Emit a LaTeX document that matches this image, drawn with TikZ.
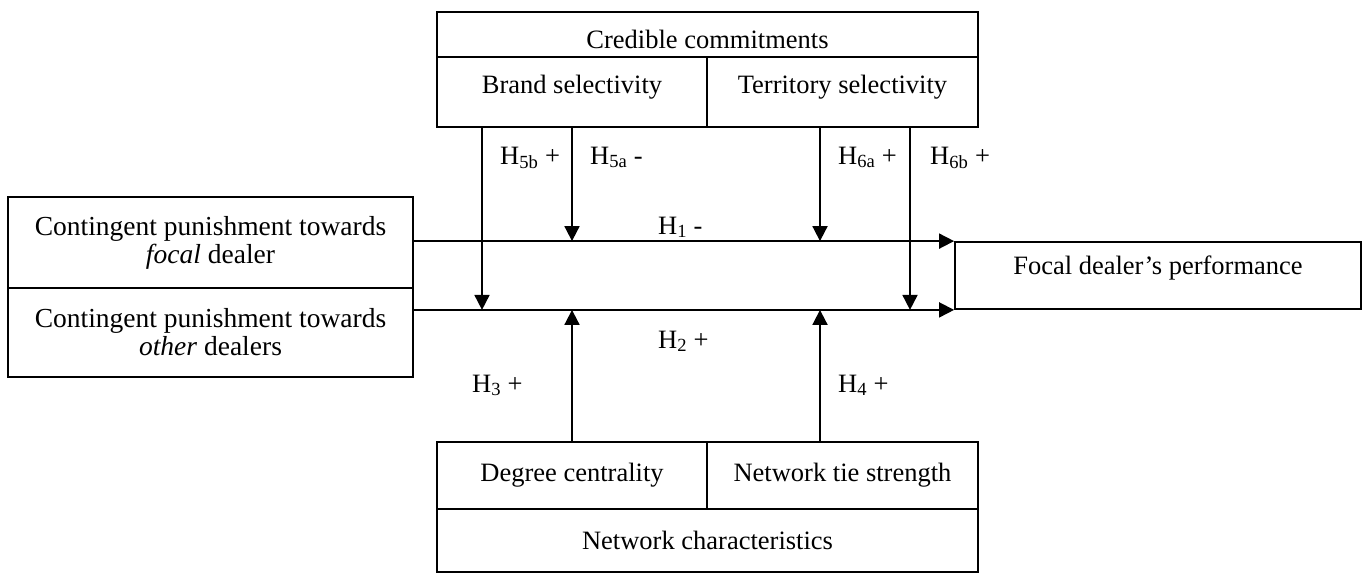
\documentclass[tikz,border=0pt]{standalone}
\usepackage{fontspec}
\setmainfont{Liberation Serif}
\usetikzlibrary{arrows.meta}

\tikzset{
  box/.style={draw, line width=1.8pt, inner sep=0pt, align=center},
  sbox/.style={box, text height=18pt, text depth=6pt},
  arr/.style={line width=1.8pt, -{Triangle[length=15pt,width=15pt]}},
  hyp/.style={inner sep=0pt, anchor=base west}
}

\begin{document}
\begin{tikzpicture}[x=1pt, y=-1pt, font=\fontsize{26.5}{28}\selectfont]
  \useasboundingbox (0,0) rectangle (1362,574);
  % moderators on top
  \node[sbox, minimum width=541pt, minimum height=45pt, text height=34pt] (cred) at (707.5,34.5) {Credible commitments};
  \node[sbox, minimum width=270pt, minimum height=70pt, text depth=16pt] (brand) at (572,92) {Brand selectivity};
  \node[sbox, minimum width=271pt, minimum height=70pt, text depth=16pt] (terr) at (842.5,92) {Territory selectivity};
  % moderators below
  \node[sbox, minimum width=270pt, minimum height=67pt] (degree) at (572,475.5) {Degree centrality};
  \node[sbox, minimum width=271pt, minimum height=67pt] (tie) at (842.5,475.5) {Network tie strength};
  \node[sbox, minimum width=541pt, minimum height=63pt, text height=24pt] (netchar) at (707.5,540.5) {Network characteristics};
  % independent and dependent variables
  \node[box, minimum width=405pt, minimum height=91pt, font=\fontsize{27.5}{28}\selectfont] (focalp) at (210.5,242.5) {Contingent punishment towards\\\textit{focal} dealer};
  \node[box, minimum width=405pt, minimum height=89pt, font=\fontsize{27.5}{28}\selectfont] (otherp) at (210.5,332.5) {Contingent punishment towards\\\textit{other} dealers};
  \node[sbox, minimum width=406pt, minimum height=67pt, text depth=20pt] (perf) at (1158,275.5) {Focal dealer’s performance};

  \coordinate (s5b) at (482,127);
  \coordinate (s6a) at (820,127);
  \coordinate (s6b) at (910,127);
  \coordinate (s4) at (820,442);

  % main effects
  \draw[arr] (focalp.east |- perf.north west) -- (perf.north west);
  \draw[arr] (otherp.east |- perf.south west) -- (perf.south west);
  % moderating effects
  \draw[arr] (s5b) -- (s5b |- perf.south west);
  \draw[arr] (brand.south) -- (brand.south |- perf.north west);
  \draw[arr] (s6a) -- (s6a |- perf.north west);
  \draw[arr] (s6b) -- (s6b |- perf.south west);
  \draw[arr] (degree.north) -- (degree.north |- perf.south west);
  \draw[arr] (s4) -- (s4 |- perf.south west);

  \node[hyp] (h5b) at (500,164) {H\textsubscript{5b} +};
  \node[hyp] (h5a) at (590,164) {H\textsubscript{5a} -};
  \node[hyp] (h6a) at (838,164) {H\textsubscript{6a} +};
  \node[hyp] (h6b) at (930,164) {H\textsubscript{6b} +};
  \node[hyp] (h1) at (658,234) {H\textsubscript{1} -};
  \node[hyp] (h2) at (658,348) {H\textsubscript{2} +};
  \node[hyp] (h3) at (472,392) {H\textsubscript{3} +};
  \node[hyp] (h4) at (838,392) {H\textsubscript{4} +};
\end{tikzpicture}
\end{document}
